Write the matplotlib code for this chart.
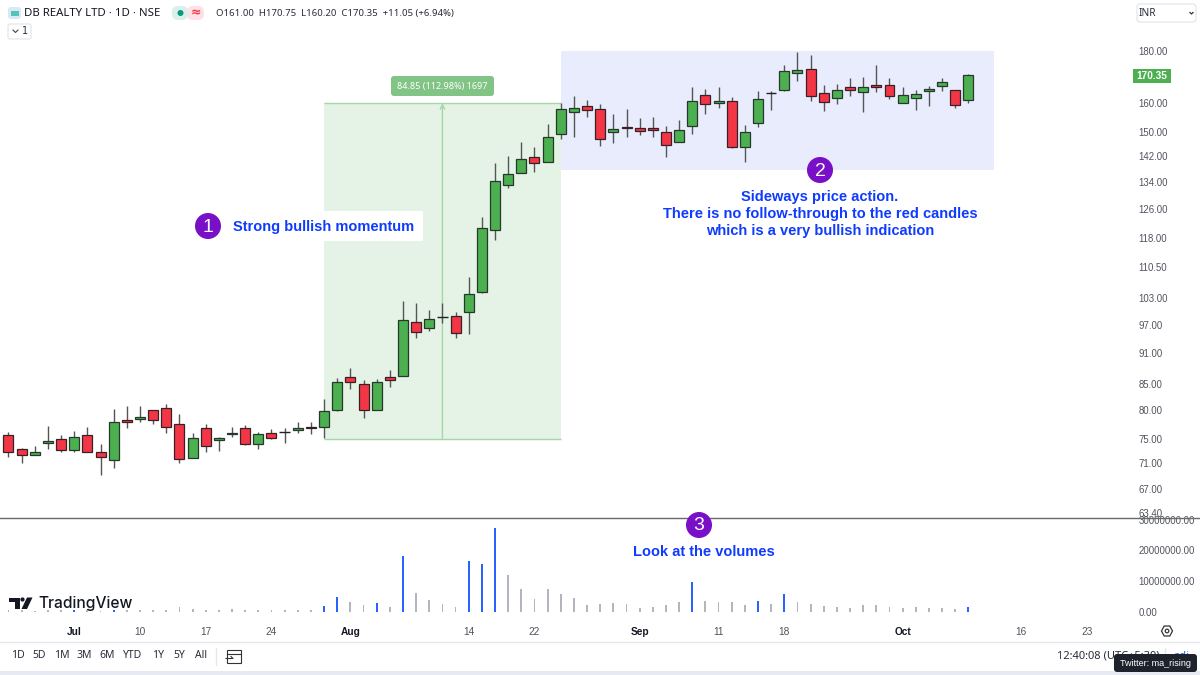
import matplotlib
matplotlib.use('Agg')
import matplotlib.pyplot as plt
import numpy as np
from matplotlib.patches import Circle, FancyBboxPatch, Polygon, Rectangle
from matplotlib.ticker import NullLocator

opens = [75.7, 73.3, 72.3, 74.3, 75.0, 73.1, 75.7, 72.8, 71.5, 78.3,
         78.5, 80.0, 80.4, 77.6, 71.9, 76.8, 74.8, 75.8, 76.8, 74.2,
         76.0, 76.2, 76.6, 77.0, 77.0, 80.1, 86.2, 84.9, 80.1, 86.2,
         86.5, 97.6, 96.3, 98.7, 98.9, 99.8, 104.5, 120.1, 133.0, 136.8,
         141.8, 140.1, 149.4, 157.0, 158.9, 157.8, 149.9, 151.7, 151.2, 151.2,
         149.8, 146.6, 152.1, 163.0, 160.2, 160.7, 145.0, 153.0, 163.9, 164.9,
         171.4, 172.8, 163.6, 161.9, 165.9, 164.1, 166.8, 166.8, 159.9, 161.8,
         164.3, 166.5, 164.9, 161.0]
highs = [76.2, 73.5, 73.9, 77.2, 75.7, 76.4, 77.1, 74.2, 80.3, 80.8,
         80.8, 80.0, 81.1, 79.4, 76.0, 77.6, 75.3, 77.0, 77.4, 76.2,
         76.7, 76.9, 78.0, 78.0, 82.0, 86.0, 88.0, 85.7, 85.9, 87.7,
         102.4, 102.0, 100.3, 102.0, 99.8, 108.0, 123.8, 139.9, 142.1, 146.7,
         144.9, 152.7, 159.9, 162.7, 161.0, 159.6, 156.1, 157.9, 154.7, 155.0,
         152.0, 154.0, 165.9, 165.1, 166.1, 162.2, 152.3, 164.4, 164.4, 174.4,
         179.6, 178.3, 166.7, 167.1, 169.4, 169.8, 174.3, 169.4, 166.1, 164.8,
         166.5, 169.2, 164.9, 170.75]
lows = [72.0, 71.0, 72.3, 73.3, 72.9, 72.9, 72.8, 69.2, 70.2, 76.9,
        78.0, 77.5, 76.1, 71.0, 71.9, 72.9, 73.0, 75.3, 74.0, 73.4,
        75.0, 74.4, 76.1, 75.8, 75.1, 79.8, 84.0, 78.7, 80.0, 84.3,
        86.5, 94.2, 95.6, 97.5, 94.1, 95.1, 104.2, 117.5, 132.0, 136.7,
        137.1, 140.1, 147.5, 148.4, 155.1, 145.3, 146.4, 148.3, 149.0, 148.4,
        141.7, 146.6, 149.3, 156.2, 158.3, 144.6, 140.1, 151.8, 157.6, 164.4,
        168.2, 160.9, 157.2, 159.6, 162.6, 156.8, 164.0, 161.6, 159.9, 157.5,
        159.0, 164.4, 158.4, 160.2]
closes = [72.9, 72.3, 72.9, 74.7, 73.1, 75.3, 72.9, 72.0, 78.0, 77.9,
          78.9, 78.2, 77.0, 71.7, 75.2, 73.8, 75.1, 76.0, 74.2, 75.8,
          75.2, 76.2, 76.9, 76.8, 79.8, 85.2, 85.3, 80.0, 85.3, 85.7,
          98.0, 95.4, 98.4, 98.7, 95.2, 104.1, 120.7, 134.3, 136.4, 141.1,
          139.8, 148.3, 157.9, 158.2, 157.7, 147.5, 151.0, 151.2, 150.2, 150.5,
          145.5, 150.5, 160.8, 159.7, 160.7, 144.9, 149.8, 161.6, 163.9, 172.0,
          172.6, 162.6, 160.6, 164.7, 164.7, 165.9, 165.9, 162.5, 163.0, 163.3,
          165.1, 168.0, 159.2, 170.35]

# volume in millions
volumes_m = [0.5, 0.4, 0.3, 0.5, 0.4, 0.4, 0.4, 0.3, 0.5, 0.4,
             0.7, 0.4, 0.5, 1.4, 0.8, 0.7, 0.7, 0.8, 0.7, 0.7,
             0.5, 0.4, 0.4, 0.6, 1.9, 4.8, 3.2, 2.1, 2.8, 1.4,
             18.1, 6.0, 3.8, 2.5, 1.4, 16.5, 15.5, 27.2, 12.0, 7.3,
             4.0, 7.5, 5.7, 4.4, 2.2, 2.5, 2.8, 2.4, 1.2, 1.5,
             2.1, 3.1, 9.6, 3.4, 3.2, 3.2, 2.2, 3.6, 2.4, 5.7,
             3.2, 2.5, 1.9, 1.4, 1.2, 2.2, 2.2, 1.4, 1.2, 1.4,
             1.2, 1.2, 1.0, 1.4]
blue_days = [5, 8, 24, 25, 28, 30, 35, 36, 37, 52, 57, 59, 73]

price_ticks = [180, 160, 150, 142, 134, 126, 118, 110.5, 103, 97, 91, 85, 80, 75, 71, 67, 63.4]
volume_ticks = [0, 10000000, 20000000, 30000000]
date_pos = [5, 10, 15, 20, 26, 35, 40, 48, 54, 59, 68, 77, 82]
date_labels = ['Jul', '10', '17', '24', 'Aug', '14', '22', 'Sep', '11', '18', 'Oct', '16', '23']
bold_dates = ['Jul', 'Aug', 'Sep', 'Oct']
range_buttons = ['1D', '5D', '1M', '3M', '6M', 'YTD', '1Y', '5Y', 'All']
button_x = [18, 39, 62, 84, 107, 133, 158, 179, 201]

GREEN = '#4caf50'
RED = '#f23645'
BLUE_TEXT = '#0f3bff'
PURPLE = '#7a0fc8'
AXIS_TEXT = '#50535e'

opens = np.array(opens)
closes = np.array(closes)
days = np.arange(len(opens))

fig = plt.figure(figsize=(12, 6.75), dpi=100, facecolor='white')

# price pane
ax = fig.add_axes([0, 157 / 675, 1130 / 1200, 518 / 675])
ax.set_yscale('log')
ax.set_xlim(-0.646, 85.29)
ax.set_ylim(62.75, 201.95)

ax.fill_between([24, 42], 75, 160, color='#e5f3e6', lw=0, zorder=1)
ax.hlines([75, 160], 24, 42, color='#a5d6a7', lw=1, zorder=1.5)
ax.annotate('', xy=(33, 160), xytext=(33, 75), zorder=1.5,
            arrowprops=dict(arrowstyle='->', color='#a5d6a7', lw=1, shrinkA=0, shrinkB=0,
                            mutation_scale=8))
ax.fill_between([42, 74.94], 137.6, 180, color='#e8ecfd', lw=0, zorder=1)

ax.vlines(days, lows, highs, color='#555555', lw=1, zorder=2)
up = closes > opens
down = closes < opens
ax.bar(days[up], (closes - opens)[up], bottom=opens[up], width=0.76, color=GREEN,
       edgecolor='#26382a', lw=0.9, zorder=3)
ax.bar(days[down], (opens - closes)[down], bottom=closes[down], width=0.76, color=RED,
       edgecolor='#3a2026', lw=0.9, zorder=3)
flat = closes == opens
ax.hlines(closes[flat], days[flat] - 0.4, days[flat] + 0.4, color='#222222', lw=1, zorder=3)

ax.yaxis.tick_right()
ax.set_yticks(price_ticks, labels=['%.2f' % p for p in price_ticks])
ax.yaxis.set_minor_locator(NullLocator())
ax.tick_params(axis='y', length=0, pad=6, labelsize=6.9, labelcolor=AXIS_TEXT)
ax.set_xticks([])
for s in ax.spines.values():
    s.set_visible(False)
for lab in ax.get_yticklabels():
    lab.set_family('Liberation Sans')

# volume pane
vax = fig.add_axes([0, 53 / 675, 1130 / 1200, 104 / 675])
vax.patch.set_alpha(0)
vax.set_xlim(-0.646, 85.29)
vax.set_ylim(-3370000, 30600000)
volumes = np.array(volumes_m) * 1000000
vol_colors = ['#2962ff' if d in blue_days else '#b2b5be' for d in days]
vax.bar(days, volumes, width=0.14, color=vol_colors, lw=0)
vax.yaxis.tick_right()
vax.set_yticks(volume_ticks, labels=['%.2f' % v for v in volume_ticks])
vax.set_xticks(date_pos, labels=date_labels)
vax.tick_params(axis='y', length=0, pad=6, labelsize=6.9, labelcolor=AXIS_TEXT)
vax.tick_params(axis='x', length=0, pad=3.5, labelsize=7.3, labelcolor=AXIS_TEXT)
for s in vax.spines.values():
    s.set_visible(False)
for lab in vax.get_yticklabels():
    lab.set_family('Liberation Sans')
for lab in vax.get_xticklabels():
    lab.set_family('Liberation Sans')
    if lab.get_text() in bold_dates:
        lab.set_color('#131722')
        lab.set_fontweight('bold')

# overlay in pixel coordinates for the screenshot chrome and notes
ui = fig.add_axes([0, 0, 1, 1])
ui.set_xlim(0, 1200)
ui.set_ylim(675, 0)
ui.axis('off')
ui.patch.set_alpha(0)

ui.plot([0, 1200], [518, 518], color='#6a6a6a', lw=1)
ui.plot([0, 1200], [642, 642], color='#e6e8ee', lw=1)
ui.add_patch(Rectangle((0, 671), 1200, 4, color='#e8eaf3', lw=0))


def rounded(x, y, w, h, face, edge='none', r=2, lw=0.8, z=3):
    ui.add_patch(FancyBboxPatch((x + r, y + r), w - 2 * r, h - 2 * r,
                                boxstyle='round,pad=%g,rounding_size=%g' % (r, r),
                                fc=face, ec=edge, lw=lw, zorder=z))


def note(x, y, s, ha='center', size=10.5):
    ui.text(x, y, s, ha=ha, va='center', color=BLUE_TEXT, fontsize=size,
            fontweight='bold', family='Liberation Sans', zorder=6)


def badge(x, y, s):
    ui.add_patch(Circle((x, y), 13, fc=PURPLE, ec='none', zorder=5))
    ui.text(x, y + 1, s, ha='center', va='center', color='white', fontsize=14,
            family='Liberation Sans', zorder=6)


# measure tag
rounded(391, 76, 103, 20, '#81c485', r=3)
ui.text(442.5, 86, '84.85 (112.98%) 1697', ha='center', va='center', color='white',
        fontsize=6.5, family='Noto Sans', zorder=4)

# notes
ui.add_patch(Rectangle((228, 211), 195, 30, fc='white', ec='none', zorder=3))
badge(208, 226, '1')
note(323.5, 227, 'Strong bullish momentum')
badge(820, 170, '2')
note(820, 197, 'Sideways price action.')
note(820, 214, 'There is no follow-through to the red candles')
note(820, 231, 'which is a very bullish indication')
badge(699, 525, '3')
note(704, 552, 'Look at the volumes')

# last price tag
ui.add_patch(Rectangle((1133, 69), 38, 14, fc=GREEN, ec='none', zorder=4))
ui.text(1152, 76, '170.35', ha='center', va='center', color='white', fontsize=7.3,
        fontweight='bold', family='Liberation Sans', zorder=5)

# header
rounded(8, 7, 13, 12, '#d8e8f6', r=3)
ui.add_patch(Rectangle((10.5, 10.5), 8, 5, fc='#53c4b5', ec='none', zorder=4))
ui.text(24, 13.5, 'DB REALTY LTD · 1D · NSE', ha='left', va='center', color='#131722',
        fontsize=8.2, family='Noto Sans')
rounded(172, 6, 16, 14, '#d9f0eb', r=6)
rounded(187, 6, 17, 14, '#fde1e7', r=6)
ui.add_patch(Circle((180.5, 13), 3, fc='#089981', ec='none', zorder=4))
ui.text(195.5, 13, '≈', ha='center', va='center', color='#f23645', fontsize=9,
        fontweight='bold', zorder=4)
ui.text(216, 13.5, 'O161.00  H170.75  L160.20  C170.35  +11.05 (+6.94%)', ha='left', va='center',
        color='#2a2e39', fontsize=6.9, family='Noto Sans')
rounded(8, 24, 23, 15, 'white', edge='#e0e3eb', r=2)
ui.plot([13, 15.5, 18], [30, 32.5, 30], color='#444444', lw=0.8, zorder=4)
ui.text(25, 31.5, '1', ha='center', va='center', color='#2a2e39', fontsize=7, zorder=4)
rounded(1137, 4, 59, 18, 'white', edge='#e0e3eb', r=3)
ui.text(1139, 13.5, 'INR', ha='left', va='center', color='#2a2e39', fontsize=7.3,
        family='Noto Sans', zorder=4)
ui.plot([1190, 1191.5, 1193], [12.5, 14, 12.5], color='#333333', lw=0.9, zorder=4)

# logo
ui.add_patch(Polygon([(9, 597.5), (19.5, 597.5), (19.5, 609), (14.5, 609), (14.5, 601.5), (9, 601.5)],
                     fc='#131722', ec='none', zorder=4))
ui.add_patch(Circle((22.5, 599.5), 2.1, fc='#131722', ec='none', zorder=4))
ui.add_patch(Polygon([(27, 597.5), (32.5, 597.5), (27, 609), (21.5, 609)], fc='#131722', ec='none', zorder=4))
ui.text(38.5, 603.5, 'TradingView', ha='left', va='center', color='#131722', fontsize=11.2,
        fontweight='medium', family='Inter', zorder=4)

# bottom bar
for label, bx in zip(range_buttons, button_x):
    ui.text(bx, 656, label, ha='center', va='center', color='#2a2e39', fontsize=7.5, family='Noto Sans')
ui.plot([216, 216], [648, 665], color='#e6e8ee', lw=1)
ui.add_patch(Rectangle((227, 650), 14, 13, fc='none', ec='#333333', lw=0.8))
ui.plot([227, 241], [653.5, 653.5], color='#333333', lw=0.8)
ui.plot([226, 233, 231], [658.5, 658.5, 656.5], color='#333333', lw=0.8)
ui.text(1057, 656, '12:40:08 (UTC+5:30)', ha='left', va='center', color='#2a2e39', fontsize=8,
        family='Noto Sans')
ui.plot([1165, 1165], [648, 665], color='#e6e8ee', lw=1)
ui.text(1182, 656, 'adj', ha='center', va='center', color='#2962ff', fontsize=8, family='Noto Sans')

# settings icon
ui.add_patch(Polygon([(1161.5, 631), (1164.2, 626), (1169.8, 626), (1172.5, 631), (1169.8, 636), (1164.2, 636)],
                     fc='none', ec='#333333', lw=0.9))
ui.add_patch(Circle((1167, 631), 1.8, fc='none', ec='#333333', lw=0.9))

# watermark tooltip
rounded(1114, 654, 83, 18, '#1e222d', r=3, z=7)
ui.text(1155.5, 663, 'Twitter: ma_rising', ha='center', va='center', color='white', fontsize=6.5,
        family='Liberation Sans', zorder=8)

fig.savefig('out.png', dpi=100)
